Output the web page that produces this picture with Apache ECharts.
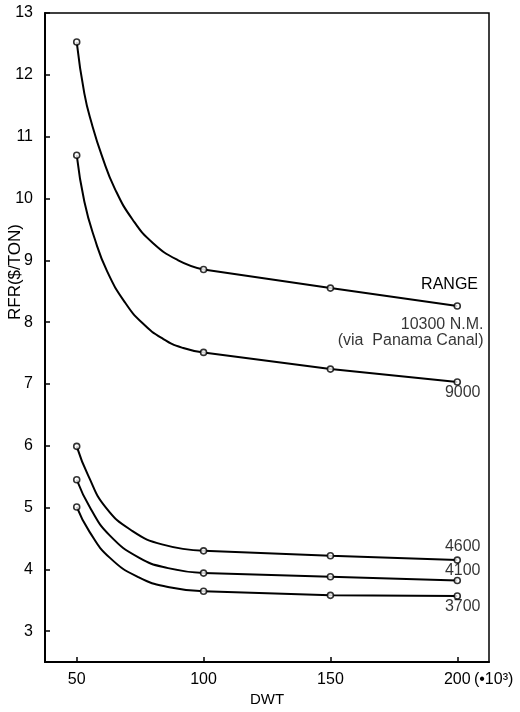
<!DOCTYPE html>
<html>
<head>
<meta charset="utf-8">
<script src="https://cdn.jsdelivr.net/npm/echarts@6/dist/echarts.min.js"></script>
<style>
    html, body { margin: 0; padding: 0; background: #fff; }
    #chart { width: 520px; height: 712px; }
</style>
</head>
<body>
<div id="chart"></div>
<script>
(function(){

    // data
    var xTicks = [50, 100, 150, 200];
    var yTicks = [3, 4, 5, 6, 7, 8, 9, 10, 11, 12, 13];
    var rangeNames = ['10300 N.M.\n(via  Panama Canal)', '9000', '4600', '4100', '3700'];

    // RFR at the marked DWT points (50,100,150,200)
    var rfr10300 = [12.53, 8.85, 8.55, 8.26];
    var rfr9000 = [10.70, 7.51, 7.24, 7.03];
    var rfr4600 = [5.99, 4.30, 4.22, 4.15];
    var rfr4100 = [5.45, 3.94, 3.88, 3.82];
    var rfr3700 = [5.01, 3.645, 3.58, 3.57];

    // points along the drawn curves between 50 and 100
    var bend10300 = [[53.0, 11.70], [56.0, 11.20], [60.0, 10.68], [65.0, 10.16], [72.0, 9.66], [80.0, 9.28], [90.0, 9.00]];
    var bend9000 = [[53.0, 9.95], [57.0, 9.36], [62.0, 8.82], [69.0, 8.32], [76.0, 7.98], [84.0, 7.73], [92.0, 7.58]];
    var bend4600 = [[54.5, 5.52], [61.5, 5.00], [72.0, 4.62], [84.0, 4.40]];
    var bend4100 = [[55.5, 4.98], [63.0, 4.55], [74.5, 4.19], [86.0, 4.02]];
    var bend3700 = [[55.0, 4.61], [63.0, 4.19], [74.5, 3.87], [86.5, 3.71]];

    var rfrAll = [rfr10300, rfr9000, rfr4600, rfr4100, rfr3700];
    var bendAll = [bend10300, bend9000, bend4600, bend4100, bend3700];

    // label offsets next to the last point (styling only)
    var labelPos = [[30, 30], [27, 14], [27, -10], [27, -6], [27, 14]];

    var font = 'Liberation Sans';
    var chart = echarts.init(document.getElementById('chart'));

    var series = [];
    for (var i = 0; i < rfrAll.length; i++) {
        // curved part 50..100
        var curve = [[xTicks[0], rfrAll[i][0]]].concat(bendAll[i]);
        curve.push([xTicks[1], rfrAll[i][1]]);
        // straight part 100..200
        var straight = [];
        var marks = [];
        for (var j = 0; j < xTicks.length; j++) {
            if (j >= 1) straight.push([xTicks[j], rfrAll[i][j]]);
            var item = {value: [xTicks[j], rfrAll[i][j]]};
            if (j == xTicks.length - 1) {
                item.label = {
                    show: true,
                    formatter: rangeNames[i],
                    position: labelPos[i],
                    align: 'right',
                    verticalAlign: 'middle',
                    color: '#000',
                    fontFamily: font,
                    fontSize: 16,
                    lineHeight: 16
                };
            }
            marks.push(item);
        }

        series.push({
            type: 'line',
            data: curve,
            showSymbol: false,
            smooth: 0.5,
            lineStyle: {color: '#000', width: 2},
            silent: true,
            z: 2
        });
        series.push({
            type: 'line',
            data: straight,
            showSymbol: false,
            lineStyle: {color: '#000', width: 2},
            silent: true,
            z: 2
        });
        series.push({
            type: 'scatter',
            data: marks,
            symbol: 'circle',
            symbolSize: 6,
            itemStyle: {color: '#fff', borderColor: '#000', borderWidth: 1.6},
            silent: true,
            z: 3
        });
    }

    var option = {
        animation: false,
        backgroundColor: '#fff',
        grid: {
            left: 45,
            right: 31,
            top: 13,
            bottom: 43,
            show: true,
            borderColor: '#000',
            borderWidth: 1.5
        },
        xAxis: {
            type: 'value',
            min: 37.5,
            max: 212.5,
            name: 'DWT',
            nameLocation: 'middle',
            nameGap: 27,
            nameTextStyle: {color: '#000', fontFamily: font, fontSize: 15},
            splitLine: {show: false},
            axisLine: {lineStyle: {color: '#000', width: 2}},
            axisTick: {inside: true, length: 5, customValues: xTicks, lineStyle: {color: '#000', width: 1.5}},
            axisLabel: {
                customValues: xTicks,
                margin: 9,
                color: '#000',
                fontFamily: font,
                fontSize: 16,
                formatter: function (v) {
                    if (v == 200) {
                        return '{p|}{v|200}{s|(•10³)}';
                    }
                    return '{v|' + v + '}';
                },
                rich: {
                    p: {width: 46},
                    v: {color: '#000', fontFamily: font, fontSize: 16},
                    s: {width: 46, color: '#000', fontFamily: font, fontSize: 16}
                }
            }
        },
        yAxis: {
            type: 'value',
            min: 2.5,
            max: 13,
            splitLine: {show: false},
            axisLine: {show: true, lineStyle: {color: '#000', width: 2}},
            axisTick: {show: true, inside: true, length: 5, customValues: yTicks, lineStyle: {color: '#000', width: 1.5}},
            axisLabel: {
                customValues: yTicks,
                margin: 12,
                color: '#000',
                fontFamily: font,
                fontSize: 16
            }
        },
        graphic: [
            {
                type: 'text',
                x: 15,
                y: 272,
                rotation: Math.PI / 2,
                style: {
                    text: 'RFR($/TON)',
                    fill: '#000',
                    font: '17px "Liberation Sans"',
                    textAlign: 'center',
                    textVerticalAlign: 'middle'
                }
            },
            {
                type: 'text',
                x: 478,
                y: 285,
                style: {
                    text: 'RANGE',
                    fill: '#000',
                    font: '16px "Liberation Sans"',
                    textAlign: 'right',
                    textVerticalAlign: 'middle'
                }
            }
        ],
        series: series
    };

    chart.setOption(option);

})();
</script>
</body>
</html>
